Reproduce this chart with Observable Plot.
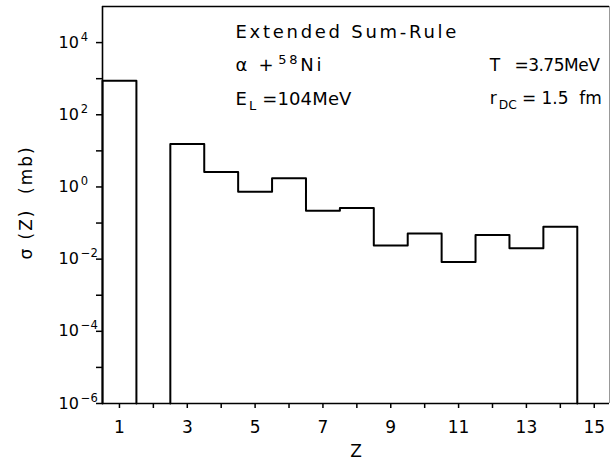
<!DOCTYPE html>
<html>
<head>
<meta charset="utf-8">
<script src="https://cdn.jsdelivr.net/npm/d3@7"></script>
<script src="https://cdn.jsdelivr.net/npm/@observablehq/plot@0.6"></script>
<style>
  html, body { margin: 0; padding: 0; background: #fff; }
  #chart svg { display: block; }
  #chart svg text { white-space: pre; }
</style>
</head>
<body>
<div id="chart"></div>
<script>
// Charge number Z of fragment
const Z = [1, 2, 3, 4, 5, 6, 7, 8, 9, 10, 11, 12, 13, 14];
// Cross section sigma(Z) in mb (0 = no bar)
const sigma = [880, 0, 15.6, 2.6, 0.74, 1.74, 0.22, 0.26, 0.024, 0.051, 0.0083, 0.047, 0.020, 0.079];
// Axis ticks
const xTicks = [1, 2, 3, 4, 5, 6, 7, 8, 9, 10, 11, 12, 13, 14, 15];
const xTickLabels = [1, 3, 5, 7, 9, 11, 13, 15];
const yTicks = [1e-6, 1e-5, 1e-4, 1e-3, 1e-2, 1e-1, 1e0, 1e1, 1e2, 1e3, 1e4];
const yTickLabelExps = [-6, -4, -2, 0, 2, 4];
// Annotation texts, anchor positions (data units) and rendered widths
const annText = ["Extended Sum-Rule", "α +^{58}Ni", "T   =3.75MeV", "E_{L} =104MeV", "r_{DC} = 1.5  fm"];
const annX = [4.42, 4.42, 11.92, 4.42, 11.92];
const annY = [18950, 2300, 2300, 278, 278];
const annWidth = [221, 86, 110, 116, 112];
const annSize = [18, 18, 17, 18, 17];
const yLabel = "σ (Z)  (mb)";

const yMin = 1e-6, yMax = 1e5, xMin = 0.5, xMax = 15.45;

// Step outline built from the data: contiguous non-zero runs
const outline = [];
let run = 0;
for (let i = 0; i < Z.length; i++) {
  if (sigma[i] > 0) {
    const prevZero = i === 0 || !(sigma[i - 1] > 0);
    if (prevZero) { run++; outline.push({x: Z[i] - 0.5, y: yMin, run}); }
    outline.push({x: Z[i] - 0.5, y: sigma[i], run});
    outline.push({x: Z[i] + 0.5, y: sigma[i], run});
    const nextZero = i === Z.length - 1 || !(sigma[i + 1] > 0);
    if (nextZero) outline.push({x: Z[i] + 0.5, y: yMin, run});
  }
}

const annotations = annText.map((t, i) => ({text: t, x: annX[i], y: annY[i], size: annSize[i]}));

const chart = Plot.plot({
  width: 611,
  height: 462,
  marginLeft: 102,
  marginRight: 2,
  marginTop: 6,
  marginBottom: 59,
  style: {fontFamily: "DejaVu Sans", fontSize: "17px", background: "#fff", color: "#000"},
  x: {type: "linear", domain: [xMin, xMax]},
  y: {type: "log", domain: [yMin, yMax]},
  marks: [
    Plot.ruleY([yMax], {stroke: "#000", strokeWidth: 1.6}),
    Plot.ruleY([yMin], {stroke: "#000", strokeWidth: 1.6}),
    Plot.ruleX([xMin], {stroke: "#000", strokeWidth: 1.6}),
    Plot.ruleX([xMax], {stroke: "#999", strokeWidth: 1}),
    Plot.axisX({
      ticks: xTicks, tickSize: 5, tickPadding: 12, strokeWidth: 1.5,
      tickFormat: d => xTickLabels.includes(d) ? String(d) : "",
      label: null, fontSize: 17
    }),
    Plot.axisY({
      ticks: yTicks, tickSize: 6, tickPadding: 38, strokeWidth: 1.5,
      textAnchor: "start",
      tickFormat: d => {
        const e = Math.round(Math.log10(d));
        return yTickLabelExps.includes(e) ? `10^{${e < 0 ? "−" + (-e) : e}}` : "";
      },
      label: null, fontSize: 16
    }),
    Plot.line(outline, {x: "x", y: "y", z: "run", stroke: "#000", strokeWidth: 2, curve: "linear"}),
    Plot.text(annotations, {x: "x", y: "y", text: "text", textAnchor: "start", lineAnchor: "middle", fontSize: "size"}),
    Plot.text(["Z"], {frameAnchor: "bottom", dy: 53, fontSize: 17}),
    Plot.text([yLabel], {frameAnchor: "left", y: () => 0.0098, dx: -76, rotate: -90, fontSize: 17})
  ]
});

// Render ^{..} and _{..} as super/subscripts
function richify(el) {
  const s = el.textContent;
  if (!/[\^_]\{/.test(s)) return;
  while (el.firstChild) el.removeChild(el.firstChild);
  const ns = "http://www.w3.org/2000/svg";
  let shift = 0;
  const add = (t, off, small, dx) => {
    const ts = document.createElementNS(ns, "tspan");
    ts.textContent = t;
    if (off - shift !== 0) ts.setAttribute("dy", (off - shift) + "px");
    if (dx) ts.setAttribute("dx", dx + "px");
    if (small) ts.setAttribute("font-size", "0.72em");
    shift = off;
    el.appendChild(ts);
  };
  const re = /([\^_])\{([^}]*)\}/g;
  let last = 0, m;
  while ((m = re.exec(s))) {
    if (m.index > last) add(s.slice(last, m.index), 0, false, 0);
    add(m[2], m[1] === "^" ? -7 : 5, true, 2);
    last = re.lastIndex;
  }
  if (last < s.length) add(s.slice(last), 0, false, 0);
  else if (shift !== 0) add("", 0, false, 0);
}
chart.querySelectorAll("text").forEach(el => {
  const s = el.textContent;
  const i = annText.indexOf(s);
  if (i >= 0) { el.setAttribute("textLength", annWidth[i]); el.setAttribute("lengthAdjust", "spacing"); }
  if (s === yLabel) { el.setAttribute("textLength", 112); el.setAttribute("lengthAdjust", "spacing"); }
  richify(el);
});

document.getElementById("chart").appendChild(chart);
</script>
</body>
</html>
